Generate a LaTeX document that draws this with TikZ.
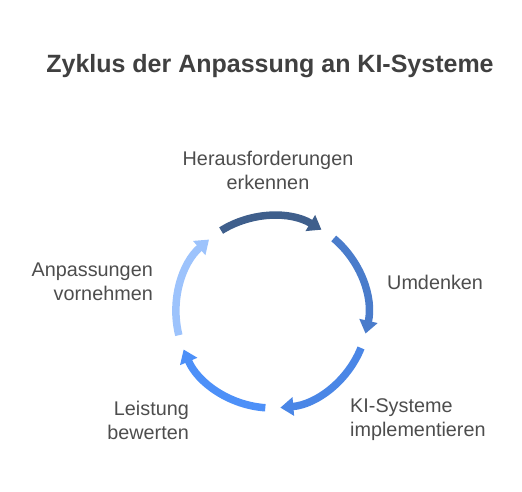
\documentclass[tikz,border=0pt]{standalone}
\usepackage{fontspec}
\setmainfont{Liberation Sans}
\usetikzlibrary{arrows.meta,calc}
\definecolor{cA}{HTML}{3F5F8C}
\definecolor{cB}{HTML}{4A7CCB}
\definecolor{cC}{HTML}{4A86E6}
\definecolor{cD}{HTML}{4D90F8}
\definecolor{cE}{HTML}{9DC3FC}
\definecolor{txt}{HTML}{4D4D4D}
\definecolor{ttl}{HTML}{404040}
\tikzset{
  cyc/.style={line width=7.5pt, -{Triangle[width=18pt,length=13pt]}},
  lbl/.style={inner sep=0pt, text=txt, font=\fontsize{19.8}{24}\selectfont},
  ttlstyle/.style={inner sep=0pt, text=ttl, font=\fontsize{25}{30}\selectfont\bfseries}
}
\begin{document}
\begin{tikzpicture}[x=1pt,y=1pt]
\useasboundingbox (0,0) rectangle (522,492);
\node[ttlstyle, anchor=base] (title) at (270,419) {Zyklus der Anpassung an KI-Systeme};
\coordinate (c) at (272,180);
\def\R{96}
\foreach \m/\col in {90/cA, 18/cB, -54/cC, -126/cD, -198/cE}{
  \draw[cyc, draw=\col] ($(c)+(\m+32:\R)$) arc[start angle=\m+32, end angle=\m-31, radius=\R];
}
\node[lbl, align=center] (l1) at (268,322) {Herausforderungen\\erkennen};
\node[lbl, anchor=west] (l2) at (387,210) {Umdenken};
\node[lbl, anchor=west, align=left] (l3) at (350,72) {KI-Systeme\\implementieren};
\node[lbl, anchor=east, align=right] (l4) at (189,72) {Leistung\\bewerten};
\node[lbl, anchor=east, align=right] (l5) at (153,210.5) {Anpassungen\\vornehmen};
\end{tikzpicture}
\end{document}
